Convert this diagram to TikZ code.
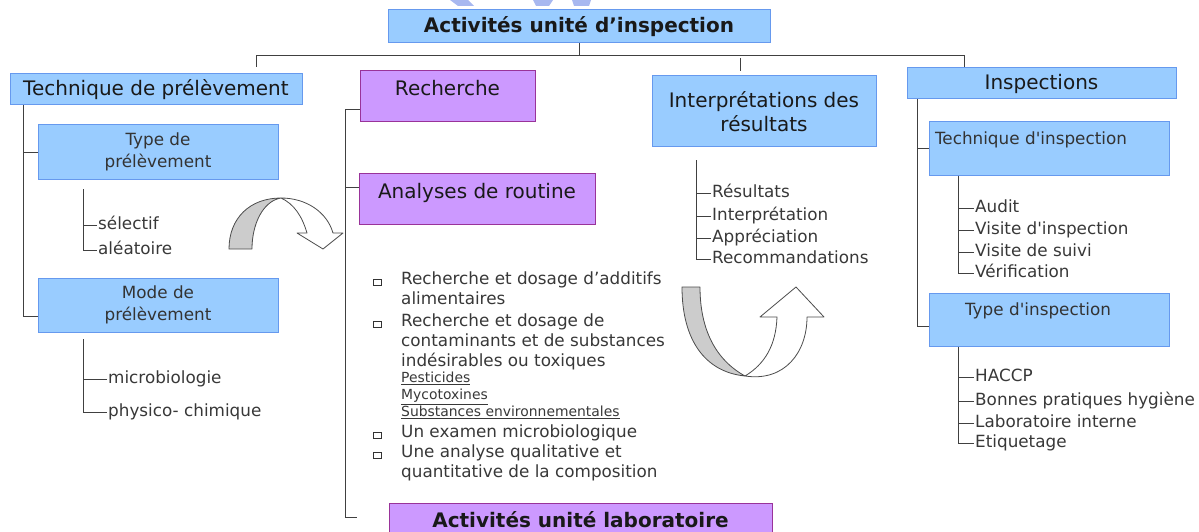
\documentclass[tikz,border=0pt]{standalone}
\usepackage{fontspec}
\setmainfont{DejaVu Sans}
\definecolor{bleu}{HTML}{99CCFF}
\definecolor{bleucadre}{HTML}{6699EE}
\definecolor{mauve}{HTML}{CC99FF}
\definecolor{mauvecadre}{HTML}{993399}
\definecolor{filigrane}{HTML}{A8B8F0}
\begin{document}
\begin{tikzpicture}[x=1pt,y=-1pt]%
\tikzstyle{boite}=[draw=bleucadre,fill=bleu,line width=1pt,inner sep=0pt,align=center,text=black!90] %%
\tikzstyle{violet}=[boite,draw=mauvecadre,fill=mauve] %%
\tikzstyle{gros}=[font=\fontsize{20}{24}\selectfont] %%
\tikzstyle{moyen}=[font=\fontsize{16.8}{22}\selectfont,text=black!80] %%
\tikzstyle{item}=[anchor=west,inner sep=1pt,font=\fontsize{16.8}{20}\selectfont,text=black!78,text height=12.5pt,text depth=3.5pt] %%
\tikzstyle{sous}=[item,font=\fontsize{13.9}{17}\selectfont,text height=10pt,text depth=3pt] %%
\tikzstyle{lien}=[draw=black!75,line width=0.9pt] %%
\tikzstyle{fleche}=[draw=black!70,line width=0.8pt,line join=round] %%
\useasboundingbox (0,0) rectangle (1199,532);
\clip (0,0) rectangle (1199,532);
%% filigrane
\fill[filigrane] (450,0) -- (468,0) -- (474,6) -- (458,6) -- cycle;
\fill[filigrane] (533,0) -- (553,0) -- (549,6) -- (536,6) -- cycle;
\fill[filigrane] (572,0) -- (591,0) -- (589,6) -- (574,6) -- cycle;
%% boites
\node[boite,font=\fontsize{20}{24}\selectfont\bfseries,minimum width=382pt,minimum height=33pt] (act) at (579,26.5) {Activités unité d’inspection}; %%
\node[boite,gros,minimum width=292pt,minimum height=31pt] (tech) at (156,89.5) {Technique de prélèvement}; %%
\node[boite,moyen,minimum width=240pt,minimum height=54pt] (tp) at (158,152) {Type de\\prélèvement}; %%
\node[boite,moyen,minimum width=240pt,minimum height=54pt] (mp) at (158,305) {Mode de\\prélèvement}; %%
\node[violet,gros,minimum width=175pt,minimum height=51pt,text height=15pt,text depth=16pt] (rech) at (447.5,96.5) {Recherche}; %%
\node[violet,gros,minimum width=236pt,minimum height=51pt,text height=15pt,text depth=16pt] (ana) at (477,198.5) {Analyses de routine}; %%
\node[boite,gros,minimum width=224pt,minimum height=71pt] (interp) at (764,111.5) {Interprétations des\\résultats}; %%
\node[boite,gros,minimum width=269pt,minimum height=31pt] (insp) at (1041.5,83.5) {Inspections}; %%
\node[boite,moyen,minimum width=240pt,minimum height=53pt,text width=228pt,align=left,text height=13pt,text depth=21pt] (ti) at (1049,148.5) {Technique d\textquotesingle inspection}; %%
\node[boite,moyen,minimum width=240pt,minimum height=53pt,text width=228pt,align=left,text height=13pt,text depth=21pt] (tyi) at (1049,319.5) {\hspace*{30pt}Type d\textquotesingle inspection}; %%
\node[violet,font=\fontsize{20}{24}\selectfont\bfseries,minimum width=383pt,minimum height=42pt,text height=15pt,text depth=8pt] (lab) at (580.5,524) {Activités unité laboratoire}; %%
%% arbre du haut
\coordinate (dL) at (256,67); %%
\coordinate (bus) at (964,55); %%
\coordinate (dR) at (964,67); %%
\coordinate (tI1) at (740,58); %%
\coordinate (tI2) at (740,71); %%
\draw[lien] (dL) |- (bus) -- (dR); %%
\draw[lien] (act.south) -- (act.south|-bus); %%
\draw[lien] (tI1) -- (tI2); %%
%% technique de prelevement
\draw[lien] ([xshift=14pt]tech.south west) |- ([yshift=-11pt]mp.west); %%
\draw[lien] (tp.west) -- ++(-14,0); %%
\node[item] (s1) at (97,225) {sélectif}; %%
\node[item] (s2) at (97,250) {aléatoire}; %%
\node[item] (m1) at (107,379) {microbiologie}; %%
\node[item] (m2) at (107,412) {physico- chimique}; %%
\coordinate (tpv) at (83,189); %%
\coordinate (mpv) at (83,339); %%
\draw[lien] (tpv) |- (s2.west); %%
\draw[lien] (s1.west) -- (s1.west-|tpv); %%
\draw[lien] (mpv) |- (m2.west); %%
\draw[lien] (m1.west) -- (m1.west-|mpv); %%
%% recherche / analyses
\coordinate (labc) at (357,517); %%
\draw[lien] ([yshift=-12.5pt]rech.west) -- ++(-14,0) |- (labc); %%
\draw[lien] ([yshift=11.5pt]ana.west) -- ++(-13,0); %%
\node[item] (l1) at (400,280) {Recherche et dosage d’additifs}; %%
\node[item] (l2) at (400,300) {alimentaires}; %%
\node[item] (l3) at (400,322) {Recherche et dosage de}; %%
\node[item] (l4) at (400,342) {contaminants et de substances}; %%
\node[item] (l5) at (400,362) {indésirables ou toxiques}; %%
\node[sous] (p1) at (400,379) {\underline{Pesticides}}; %%
\node[sous] (p2) at (400,396) {\underline{Mycotoxines}}; %%
\node[sous] (p3) at (400,413) {\underline{Substances environnementales}}; %%
\node[item] (l6) at (400,433) {Un examen microbiologique}; %%
\node[item] (l7) at (400,453) {Une analyse qualitative et}; %%
\node[item] (l8) at (400,473) {quantitative de la composition}; %%
\foreach \b in {l1,l3,l6,l7}
  \draw[black!80,line width=1pt,fill=white] ([shift={(-27,-1)}]\b.west) rectangle ([shift={(-19,5)}]\b.west); %%
%% interpretation
\node[item] (r1) at (711,193) {Résultats}; %%
\node[item] (r2) at (711,216) {Interprétation}; %%
\node[item] (r3) at (711,238) {Appréciation}; %%
\node[item] (r4) at (711,259) {Recommandations}; %%
\coordinate (iv) at (696,160); %%
\draw[lien] (iv) |- (r4.west); %%
\draw[lien] (r1.west) -- (r1.west-|iv); %%
\draw[lien] (r2.west) -- (r2.west-|iv); %%
\draw[lien] (r3.west) -- (r3.west-|iv); %%
%% inspections
\draw[lien] ([xshift=11pt]insp.south west) |- ([yshift=-6.5pt]tyi.west); %%
\draw[lien] (ti.west) -- ++(-11,0); %%
\node[item] (a1) at (974,208) {Audit}; %%
\node[item] (a2) at (974,230) {Visite d\textquotesingle inspection}; %%
\node[item] (a3) at (974,252) {Visite de suivi}; %%
\node[item] (a4) at (974,273) {Vérification}; %%
\node[item] (h1) at (974,377) {HACCP}; %%
\node[item] (h2) at (974,401) {Bonnes pratiques hygiène}; %%
\node[item] (h3) at (974,423) {Laboratoire interne}; %%
\node[item] (h4) at (974,443) {Etiquetage}; %%
\coordinate (tiv) at ([xshift=30pt]ti.south west); %%
\coordinate (tyv) at ([xshift=30pt]tyi.south west); %%
\draw[lien] (tiv) |- (a4.west); %%
\draw[lien] (a1.west) -- (a1.west-|tiv); %%
\draw[lien] (a2.west) -- (a2.west-|tiv); %%
\draw[lien] (a3.west) -- (a3.west-|tiv); %%
\draw[lien] (tyv) |- (h4.west); %%
\draw[lien] (h1.west) -- (h1.west-|tyv); %%
\draw[lien] (h2.west) -- (h2.west-|tyv); %%
\draw[lien] (h3.west) -- (h3.west-|tyv); %%
%% fleche courbe gauche
\filldraw[fleche,fill=black!20] (229,249) .. controls (229,218) and (250,198) .. (281,198) .. controls (263,201) and (252,224) .. (252,249) -- cycle; %%
\filldraw[fleche,fill=white] (281,198) .. controls (306,198) and (327,212) .. (333,233) -- (343,233) -- (323,249) -- (297,233) -- (307,233) .. controls (302,216) and (294,204) .. (281,198) -- cycle; %%
%% fleche en U
\filldraw[fleche,fill=black!20] (682,287) -- (700,287) .. controls (700,330) and (716,360) .. (745,376) .. controls (705,372) and (682,340) .. (682,287) -- cycle; %%
\filldraw[fleche,fill=white] (745,376) .. controls (785,382) and (807,352) .. (807,317) -- (824,317) -- (796,287) -- (760,317) -- (777,317) .. controls (776,345) and (765,364) .. (745,376) -- cycle; %%
\end{tikzpicture}
\end{document}
